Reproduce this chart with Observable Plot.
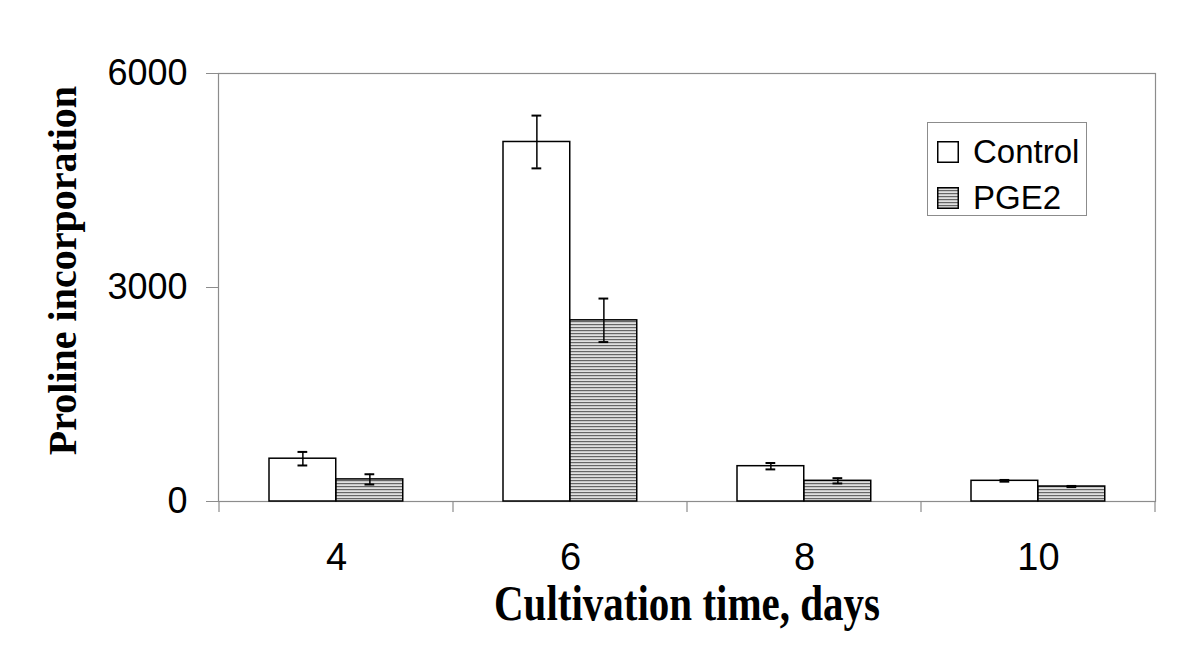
<!DOCTYPE html>
<html>
<head>
<meta charset="utf-8">
<script src="https://cdn.jsdelivr.net/npm/d3@7"></script>
<script src="https://cdn.jsdelivr.net/npm/@observablehq/plot@0.6"></script>
<style>
  html, body { margin: 0; padding: 0; background: #fff; }
  #wrap { position: relative; width: 1200px; height: 659px; }
  #legend {
    position: absolute; left: 927px; top: 122px; width: 160px; height: 94px;
    border: 1px solid #8c8c8c; background: #fff; box-sizing: border-box;
    font-family: "Liberation Sans", Arial, sans-serif; font-size: 33px; color: #000;
  }
  #legend .item { position: absolute; left: 9px; display: flex; align-items: center; }
  #legend svg { margin-right: 14px; }
</style>
</head>
<body>
<div id="wrap"></div>
<script>
// ---- data ----
const days = [4, 6, 8, 10];
const series = ["Control", "PGE2"];
const controlValues = [600, 5040, 495, 290];
const controlErrors = [95, 370, 45, 12];
const pge2Values = [310, 2540, 290, 210];
const pge2Errors = [72, 305, 37, 8];
const yTicks = [0, 3000, 6000];
const xTitle = "Cultivation time, days";
const yTitle = "Proline incorporation";

const rows = [];
days.forEach((d, i) => {
  rows.push({day: d, series: "Control", value: controlValues[i], err: controlErrors[i]});
  rows.push({day: d, series: "PGE2", value: pge2Values[i], err: pge2Errors[i]});
});
const ctrl = rows.filter(r => r.series === "Control");
const pge = rows.filter(r => r.series === "PGE2");

// ---- layout ----
const W = 1200, H = 659;
const mL = 218, mR = 45, mT = 73, mB = 158;
const bw = (W - mL - mR) / days.length;   // band width
const gap = 50, barW = 67, capW = 10;
const cCenter = gap + barW / 2, pCenter = gap + barW * 1.5;
const serif = "'Liberation Serif', 'Times New Roman', serif";
const sans = "'Liberation Sans', Arial, sans-serif";

const plot = Plot.plot({
  width: W, height: H,
  marginLeft: mL, marginRight: mR, marginTop: mT, marginBottom: mB,
  style: {fontFamily: sans, background: "#fff", color: "#000"},
  x: {type: "band", domain: days, padding: 0},
  y: {domain: [0, 6000]},
  marks: [
    Plot.frame({stroke: "#8c8c8c", strokeWidth: 1.2}),
    Plot.axisY({ticks: yTicks, tickSize: 12, tickPadding: 19, fontSize: 36, stroke: "#8c8c8c", label: null, tickFormat: d => String(d)}),
    Plot.axisX({tickSize: 0, tickPadding: 42, fontSize: 38, label: null}),
    Plot.barY(ctrl, {x: "day", y: "value", fill: "#fff", stroke: "#000", strokeWidth: 1.5,
      insetLeft: gap, insetRight: bw - gap - barW}),
    Plot.barY(pge, {x: "day", y: "value", fill: "url(#hatch)", stroke: "#000", strokeWidth: 1.5,
      insetLeft: gap + barW, insetRight: bw - gap - 2 * barW}),
    // error bars
    Plot.ruleX(ctrl, {x: "day", y1: d => d.value - d.err, y2: d => d.value + d.err, dx: cCenter - bw / 2, stroke: "#000", strokeWidth: 1.5}),
    Plot.ruleX(pge, {x: "day", y1: d => d.value - d.err, y2: d => d.value + d.err, dx: pCenter - bw / 2, stroke: "#000", strokeWidth: 1.5}),
    Plot.tickY(ctrl, {x: "day", y: d => d.value + d.err, insetLeft: cCenter - capW / 2, insetRight: bw - cCenter - capW / 2, stroke: "#000", strokeWidth: 2}),
    Plot.tickY(ctrl, {x: "day", y: d => d.value - d.err, insetLeft: cCenter - capW / 2, insetRight: bw - cCenter - capW / 2, stroke: "#000", strokeWidth: 2}),
    Plot.tickY(pge, {x: "day", y: d => d.value + d.err, insetLeft: pCenter - capW / 2, insetRight: bw - pCenter - capW / 2, stroke: "#000", strokeWidth: 2}),
    Plot.tickY(pge, {x: "day", y: d => d.value - d.err, insetLeft: pCenter - capW / 2, insetRight: bw - pCenter - capW / 2, stroke: "#000", strokeWidth: 2}),
    // axis titles
    Plot.text([xTitle], {frameAnchor: "bottom", textAnchor: "middle", lineAnchor: "middle", dy: 102, text: d => d,
      fontFamily: serif, fontWeight: "bold", fontSize: 41, fill: "#000", className: "xtitle"}),
    Plot.text([yTitle], {frameAnchor: "left", textAnchor: "middle", lineAnchor: "middle", rotate: -90, dx: -155, dy: -17, text: d => d,
      fontFamily: serif, fontWeight: "bold", fontSize: 40, fill: "#000"})
  ]
});

// hatch pattern definition
const svg = d3.select(plot);
const defs = svg.insert("defs", ":first-child");
const pat = defs.append("pattern").attr("id", "hatch").attr("patternUnits", "userSpaceOnUse")
  .attr("width", 6).attr("height", 3);
pat.append("rect").attr("width", 6).attr("height", 3).attr("fill", "#e0e0e0");
pat.append("rect").attr("width", 6).attr("height", 1.2).attr("fill", "#666");

// the reference's x title glyphs are drawn slightly taller than wide
svg.selectAll(".xtitle text").each(function() {
  const t = d3.select(this);
  const tr = t.attr("transform") || "";
  t.attr("transform", tr + " scale(1,1.22)");
});

// boundary tick marks under the x axis, from the plot's own x scale
const xs = plot.scale("x");
const ys = plot.scale("y");
const bounds = days.map(d => xs.apply(d)).concat([xs.apply(days[days.length - 1]) + xs.bandwidth]);
const y0 = ys.apply(0);
svg.append("g").selectAll("line").data(bounds).join("line")
  .attr("x1", d => d).attr("x2", d => d).attr("y1", y0).attr("y2", y0 + 11)
  .attr("stroke", "#8c8c8c").attr("stroke-width", 1.2);

const wrap = document.getElementById("wrap");
wrap.appendChild(plot);

// legend
const legend = document.createElement("div");
legend.id = "legend";
const fills = {Control: "#fff", PGE2: "url(#hatch)"};
series.forEach((s, i) => {
  const it = document.createElement("div");
  it.className = "item";
  it.style.top = (i === 0 ? 10 : 56) + "px";
  it.innerHTML = `<svg width="22" height="22"><rect x="0.75" y="0.75" width="20.5" height="20.5" fill="${fills[s]}" stroke="#000" stroke-width="1.5"/></svg><span>${s}</span>`;
  legend.appendChild(it);
});
wrap.appendChild(legend);
</script>
</body>
</html>
